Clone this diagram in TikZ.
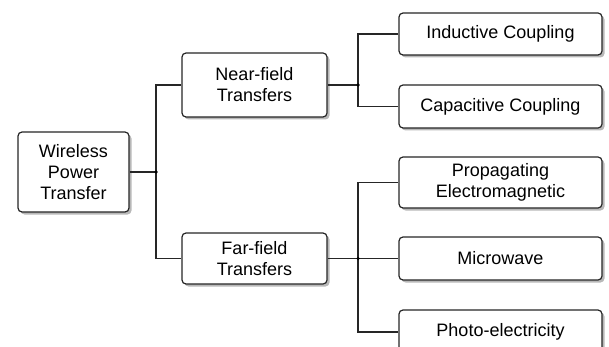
\documentclass[tikz,border=0pt]{standalone}
\usepackage{fontspec}
\setmainfont{Liberation Sans}
\usetikzlibrary{shadows}
\begin{document}
\begin{tikzpicture}[x=1pt,y=-1pt,
  box/.style={draw=black!85, line width=1.2pt, rounded corners=4pt, fill=white,
    align=center, inner sep=0pt, font=\fontsize{18}{21}\selectfont,
    drop shadow={shadow xshift=2.5pt, shadow yshift=-2.5pt, fill=black!35, opacity=0.8}},
  conn/.style={line width=1.2pt, black!85},
  dot/.style={circle, fill=black, inner sep=0pt, minimum size=3.5pt}]
\useasboundingbox (0,0) rectangle (609,347);
\node[box, minimum width=111pt, minimum height=80pt] (wpt) at (73.5,172) {Wireless\\Power\\Transfer};
\node[box, minimum width=145pt, minimum height=64pt] (near) at (254.5,85) {Near-field\\Transfers};
\node[box, minimum width=145pt, minimum height=51pt] (far) at (254.5,258.5) {Far-field\\Transfers};
\node[box, minimum width=203pt, minimum height=42pt] (ind) at (500.5,34) {Inductive Coupling};
\node[box, minimum width=203pt, minimum height=43pt] (cap) at (500.5,106.5) {Capacitive Coupling};
\node[box, minimum width=203pt, minimum height=51pt] (prop) at (500.5,182.5) {Propagating\\Electromagnetic};
\node[box, minimum width=203pt, minimum height=43pt] (micro) at (500.5,258.5) {Microwave};
\node[box, minimum width=203pt, minimum height=44pt] (photo) at (500.5,332) {Photo-electricity};
\coordinate (j1) at (156,172);
\coordinate (j2) at (358,85);
\coordinate (j3) at (358,258.5);
\draw[conn] (wpt.east) -- (j1);
\draw[conn] (j1) |- (near.west);
\draw[conn] (j1) |- (far.west);
\draw[conn] (near.east) -- (j2);
\draw[conn] (j2) |- (ind.west);
\draw[conn] (j2) |- (cap.west);
\draw[conn] (far.east) -- (j3);
\draw[conn] (j3) |- (prop.west);
\draw[conn] (j3) -- (micro.west);
\draw[conn] (j3) |- (photo.west);
\node[dot] (d1) at (j1) {};
\node[dot] (d2) at (j2) {};
\node[dot] (d3) at (j3) {};
\end{tikzpicture}
\end{document}
